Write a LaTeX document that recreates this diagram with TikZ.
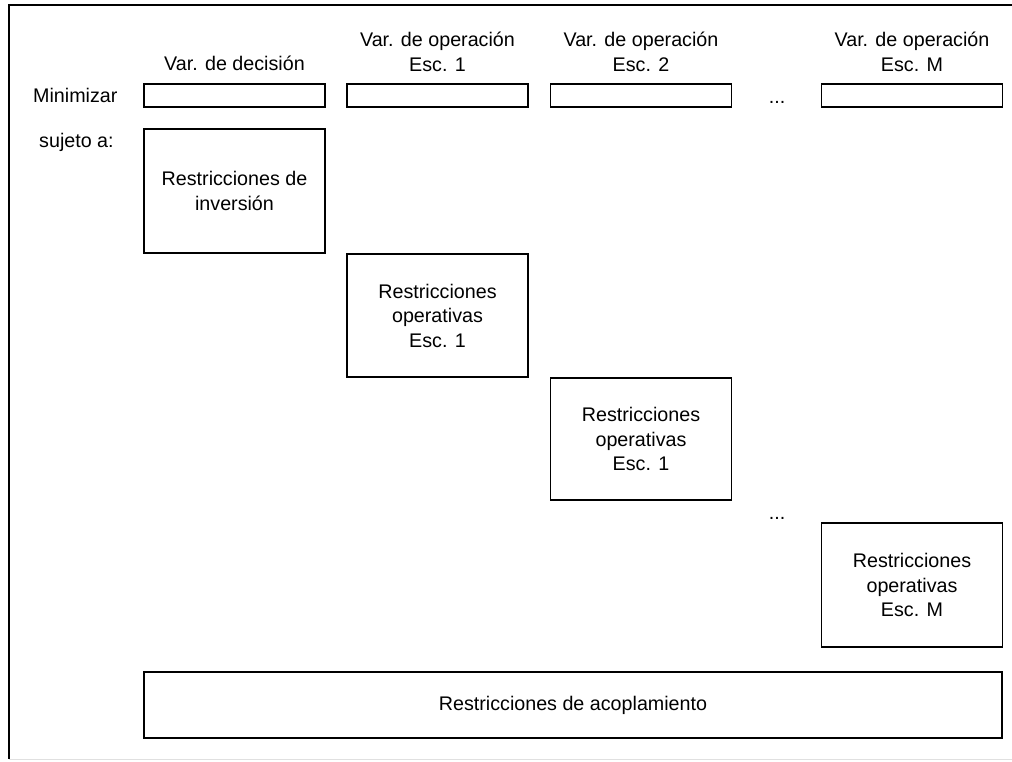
\documentclass[tikz,border=0pt]{standalone}
\usepackage{fontspec}
\setmainfont{Liberation Sans}
\begin{document}
\begin{tikzpicture}[x=1pt,y=-1pt,
  every node/.style={font=\fontsize{19.7}{24.5}\selectfont},
  lbl/.style={inner sep=0pt, align=center},
  varbox/.style={draw, line width=1.3pt, minimum width=181pt, minimum height=23pt, inner sep=0pt},
  resbox/.style={draw, line width=1.3pt, minimum width=181pt, minimum height=123pt, inner sep=0pt, align=center},
  frame/.style={line width=1.8pt}
]
\useasboundingbox (0,0) rectangle (1012,761);
% frame
\coordinate (ftl) at (9,5);
\coordinate (ftr) at (1012,5);
\coordinate (fbl) at (9,759);
\coordinate (fbr) at (1012,759);
\draw[frame] (ftr) -- (ftl) -- (fbl);
\draw[black!12, line width=1pt] (fbl) -- (fbr);

% headers
\node[lbl, anchor=base] (h0) at (234.5,70) {Var. de decisión};
\node[lbl] (h1) at (437.5,52) {Var. de operación\\Esc. 1};
\node[lbl] (h2) at (641,52) {Var. de operación\\Esc. 2};
\node[lbl] (h3) at (912,52) {Var. de operación\\Esc. M};

% row labels
\node[lbl, anchor=base west] (min) at (33,102) {Minimizar};
\node[lbl, anchor=base west] (suj) at (39,147) {sujeto a:};

% objective boxes
\node[varbox] (v0) at (234.5,95.5) {};
\node[varbox] (v1) at (437.5,95.5) {};
\node[varbox] (v2) at (641,95.5) {};
\node[varbox] (v3) at (912,95.5) {};
\node[lbl, anchor=base] (d1) at (777,103) {...};

% constraint boxes
\node[resbox, minimum height=124pt] (inv) at (234.5,191) {Restricciones de\\inversión};
\node[resbox] (op1) at (437.5,315.5) {Restricciones\\operativas\\Esc. 1};
\node[resbox, minimum height=122pt] (op2) at (641,439) {Restricciones\\operativas\\Esc. 1};
\node[lbl, anchor=base] (d2) at (777,519) {...};
\node[resbox, minimum height=124pt] (opM) at (912,585) {Restricciones\\operativas\\Esc. M};
\node[resbox, minimum width=858pt, minimum height=66pt] (acop) at (573,705) {Restricciones de acoplamiento};
\end{tikzpicture}
\end{document}
